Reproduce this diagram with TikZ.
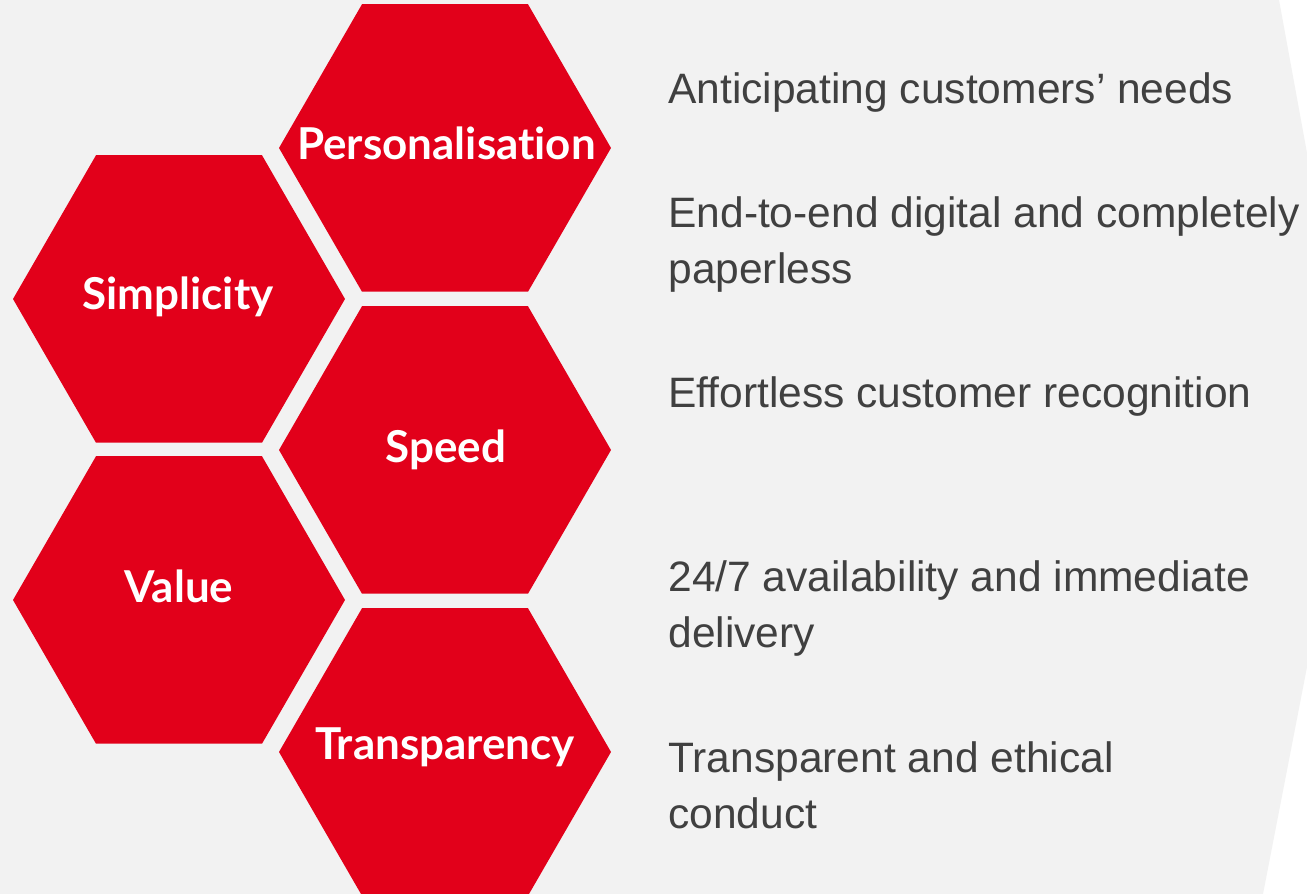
\documentclass[tikz,border=0pt]{standalone}
\usepackage{fontspec}
\setmainfont{Liberation Sans}
\newfontfamily\hexfont[Ligatures={NoCommon}]{Lato}
\usetikzlibrary{shapes.geometric}

\definecolor{brandred}{HTML}{E2001A}
\definecolor{panelgray}{HTML}{F2F2F2}
\definecolor{textgray}{HTML}{404040}

\tikzset{
	hexa/.style={regular polygon, regular polygon sides=6, minimum size=6.64cm,
		inner sep=0pt, outer sep=0pt, fill=brandred},
	hexlabel/.style={anchor=base, inner sep=0pt, text=white,
		font=\hexfont\bfseries\fontsize{25}{30}\selectfont},
	item/.style={anchor=base west, align=left, inner sep=0pt, text=textgray,
		font=\fontsize{24.2}{32.4}\selectfont}
}

\begin{document}
\begin{tikzpicture}
	\useasboundingbox (0, 0) rectangle (26.14, 17.88);
	\fill[white] (0, 0) rectangle (26.14, 17.88);

	% grey panel with the pointed right edge
	\fill[panelgray] (0, 0) -- (0, 17.88) -- (25.58, 17.88) -- (26.14, 14.82)
		-- (26.14, 4.54) -- (25.26, 0) -- cycle;

	% honeycomb
	\node[hexa] (pers) at (8.90, 14.92) {};
	\node[hexa] (simp) at (3.58, 11.90) {};
	\node[hexa] (speed) at (8.90, 8.88) {};
	\node[hexa] (value) at (3.58, 5.88) {};
	\node[hexa] (trans) at (8.90, 2.84) {};

	\node[hexlabel] (perslabel) at (8.93, 14.68) {Personalisation};
	\node[hexlabel] (simplabel) at (3.56, 11.68) {Simplicity};
	\node[hexlabel] (speedlabel) at (8.92, 8.62) {Speed};
	\node[hexlabel] (valuelabel) at (3.58, 5.82) {Value};
	\node[hexlabel] (translabel) at (8.90, 2.68) {Transparency};

	% what each value stands for (base = last line)
	\node[item] (needs) at (13.36, 15.80) {Anticipating customers’ needs};
	\node[item] (paperless) at (13.36, 12.20) {End-to-end digital and completely\\paperless};
	\node[item] (recognition) at (13.36, 9.72) {Effortless customer recognition};
	\node[item] (delivery) at (13.36, 4.92) {24/7 availability and immediate\\delivery};
	\node[item] (conduct) at (13.36, 1.30) {Transparent and ethical\\conduct};

\end{tikzpicture}
\end{document}
